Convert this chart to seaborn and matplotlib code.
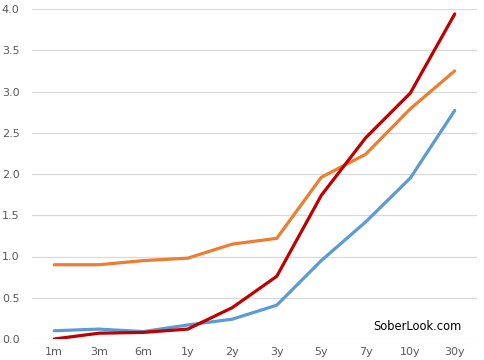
import matplotlib
matplotlib.use("Agg")
import matplotlib.pyplot as plt
import seaborn as sns
import pandas as pd

tenors = ["1m", "3m", "6m", "1y", "2y", "3y", "5y", "7y", "10y", "30y"]
blue_vals = [0.10, 0.12, 0.09, 0.17, 0.24, 0.41, 0.95, 1.42, 1.95, 2.77]
orange_vals = [0.90, 0.90, 0.95, 0.98, 1.15, 1.22, 1.96, 2.24, 2.79, 3.25]
red_vals = [0.00, 0.07, 0.08, 0.12, 0.38, 0.76, 1.74, 2.44, 2.98, 3.94]
series_names = ["blue", "orange", "red"]
colors = {"blue": "#5B9BD5", "orange": "#ED7D31", "red": "#C00000"}

rows = []
for name, vals in zip(series_names, [blue_vals, orange_vals, red_vals]):
    for i, (t, v) in enumerate(zip(tenors, vals)):
        rows.append({"pos": i, "tenor": t, "value": v, "series": name})
df = pd.DataFrame(rows)

sns.set_style("white")
fig = plt.figure(figsize=(4.84, 3.6), dpi=100)
ax = fig.add_axes([32/484, 21/360, 445/484, 330/360])

sns.lineplot(data=df, x="pos", y="value", hue="series", palette=colors,
             hue_order=series_names, linewidth=2.3, legend=False, ax=ax,
             sort=False, estimator=None)

ax.set_xlim(-0.5, len(tenors) - 0.5)
ax.set_ylim(0, 4.0)
ax.set_xticks(range(len(tenors)))
ax.set_xticklabels(tenors)
ax.set_yticks([i * 0.5 for i in range(9)])
ax.set_yticklabels([f"{i*0.5:.1f}" for i in range(9)])
ax.grid(axis="y", color="#D9D9D9", linewidth=0.9)
ax.set_axisbelow(True)
for s in ax.spines.values():
    s.set_visible(False)
ax.tick_params(axis="both", length=0, labelsize=8, colors="#595959")
ax.tick_params(axis="y", pad=9)
ax.tick_params(axis="x", pad=6)
ax.set_xlabel("")
ax.set_ylabel("")
ax.text(417/484, 34/360, "SoberLook.com", transform=fig.transFigure,
        ha="center", va="center", fontsize=8.3, color="black")

fig.savefig("out.png", dpi=100)
